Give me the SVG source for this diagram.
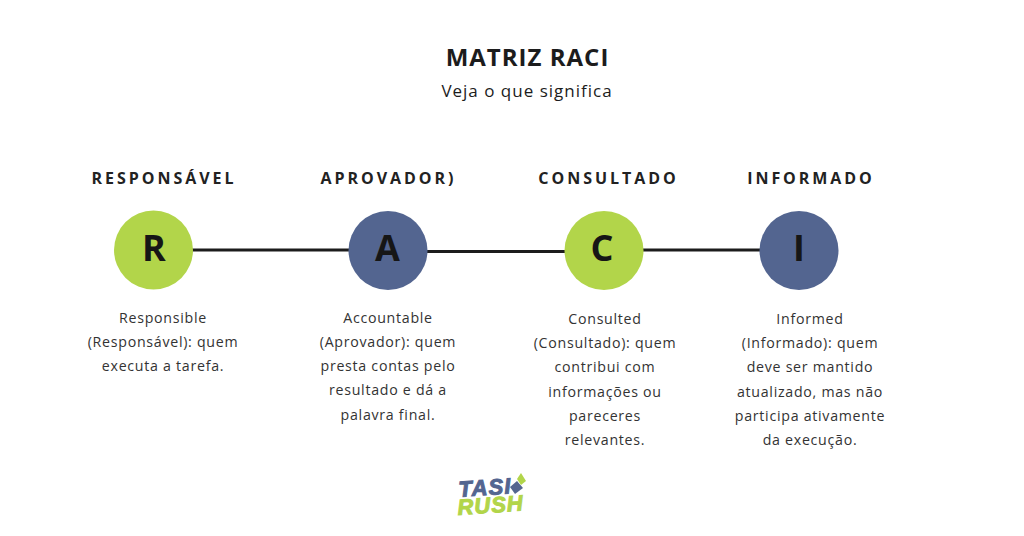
<svg xmlns="http://www.w3.org/2000/svg" width="1024" height="536" viewBox="0 0 1024 536">
<style>
text{font-family:"Open Sans","Noto Sans","Liberation Sans",sans-serif;text-anchor:middle;fill:#1c1c1c}
.h{font-size:16px;font-weight:700;letter-spacing:2.95px;fill:#222}
.l{font-size:36px;font-weight:700;fill:#161616}
.b{font-size:14.2px;letter-spacing:.72px;fill:#333}
.g{fill:#b2d54a}.n{fill:#536590}
text.logo{font-family:"Liberation Sans",sans-serif;font-weight:700;font-style:italic;text-anchor:start}
text.lb{fill:#536590;stroke:#536590}
text.lg{fill:#b2d54a;stroke:#b2d54a}
</style>
<rect width="1024" height="536" fill="#fff"/>
<g id="connectors" stroke="#1c1c1c" stroke-width="3.2" fill="none">
<line x1="190" y1="250" x2="350" y2="250"/>
<line x1="426" y1="251.500" x2="567" y2="251.500"/>
<line x1="641" y1="250" x2="762" y2="250"/>
</g>
<g id="title">
<text x="527.500" y="66" font-size="24px" font-weight="700" letter-spacing="1">MATRIZ RACI</text>
<text x="527" y="97" font-size="17px" letter-spacing="1" fill="#333">Veja o que significa</text>
</g>
<g id="node-r">
<text class="h" x="164" y="184">RESPONSÁVEL</text>
<circle class="g" cx="153.500" cy="250" r="39.500"/>
<text class="l" x="154" y="261">R</text>
<text class="b"><tspan x="163" y="323">Responsible</tspan><tspan x="163" y="347">(Responsável): quem</tspan><tspan x="163" y="371">executa a tarefa.</tspan></text>
</g>
<g id="node-a">
<text class="h" x="388.500" y="184">APROVADOR)</text>
<circle class="n" cx="388" cy="250.500" r="39.500"/>
<text class="l" x="387.500" y="261">A</text>
<text class="b"><tspan x="388" y="323">Accountable</tspan><tspan x="388" y="347">(Aprovador): quem</tspan><tspan x="388" y="371">presta contas pelo</tspan><tspan x="388" y="395">resultado e dá a</tspan><tspan x="388" y="420">palavra final.</tspan></text>
</g>
<g id="node-c">
<text class="h" x="608.500" y="184">CONSULTADO</text>
<circle class="g" cx="604" cy="250.500" r="39.500"/>
<text class="l" x="602" y="261">C</text>
<text class="b"><tspan x="605" y="324">Consulted</tspan><tspan x="605" y="348">(Consultado): quem</tspan><tspan x="605" y="372">contribui com</tspan><tspan x="605" y="397">informações ou</tspan><tspan x="605" y="421">pareceres</tspan><tspan x="605" y="445">relevantes.</tspan></text>
</g>
<g id="node-i">
<text class="h" x="811" y="184">INFORMADO</text>
<circle class="n" cx="799" cy="250.500" r="39.500"/>
<text class="l" x="799" y="261">I</text>
<text class="b"><tspan x="810" y="324">Informed</tspan><tspan x="810" y="348">(Informado): quem</tspan><tspan x="810" y="372">deve ser mantido</tspan><tspan x="810" y="397">atualizado, mas não</tspan><tspan x="810" y="421">participa ativamente</tspan><tspan x="810" y="445">da execução.</tspan></text>
</g>
<g id="logo">
<text class="logo lb" x="459" y="497" font-size="22" letter-spacing="1.2" stroke-width="1" transform="rotate(-4 459 497)">TASI</text>
<polygon points="510,487 517,481 523,488 515,494" fill="#536590"/>
<polygon points="517,479 521,473 526,481 521,485" fill="#b2d54a"/>
<text class="logo lg" x="458" y="515" font-size="22" letter-spacing="1" stroke-width="1" transform="rotate(-4 458 515)">RUSH</text>
</g>
</svg>
